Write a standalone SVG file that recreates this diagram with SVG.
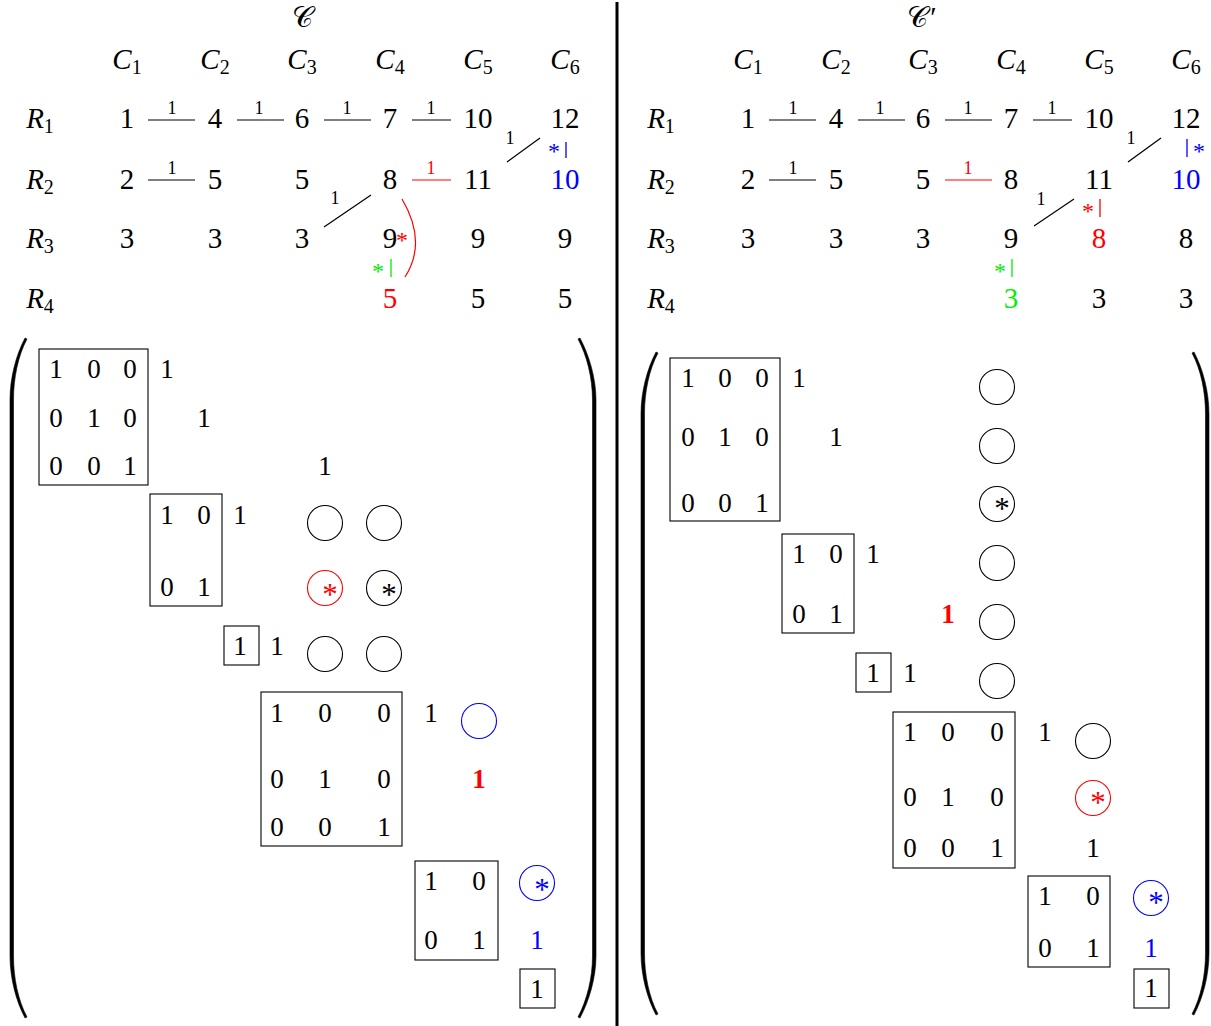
<svg xmlns="http://www.w3.org/2000/svg" width="1211" height="1026" viewBox="0 0 1211 1026">
<style>
text{font-family:"Liberation Serif","DejaVu Serif",serif;text-anchor:middle;fill:#000}
.g{font-size:29px}
.m{font-size:27px}
.s{font-size:18px}
.h{font-size:29px}
.it{font-style:italic}
.sub{font-size:20px;font-style:normal}
.st{font-size:24px}
.cst{font-size:31px}
.red{fill:#ff0000}
.blue{fill:#0000ff}
.green{fill:#00ee00}
.bold{font-weight:bold}
.e{stroke:#000;stroke-width:1.2;fill:none}
.er{stroke:#ff0000;stroke-width:1.2;fill:none}
.bar{stroke-width:1.3}
.box{fill:none;stroke:#000;stroke-width:1.1}
.c{fill:none;stroke:#000;stroke-width:1.1}
.cr{fill:none;stroke:#ff0000;stroke-width:1.1}
.cb{fill:none;stroke:#0000ff;stroke-width:1.1}
.paren{fill:#000;stroke:#000;stroke-width:0.6}
</style>

<line id="divider" x1="617" y1="2" x2="617" y2="1026" stroke="#000" stroke-width="3"/>

<!-- ============ LEFT PANEL ============ -->
<g id="left-graph">
  <text id="L-title" class="h" x="302" y="27" font-size="27">𝒞</text>
  <g id="L-headers" class="h">
    <text x="127" y="69"><tspan class="it">C</tspan><tspan class="sub" dy="5">1</tspan></text>
    <text x="215" y="69"><tspan class="it">C</tspan><tspan class="sub" dy="5">2</tspan></text>
    <text x="302" y="69"><tspan class="it">C</tspan><tspan class="sub" dy="5">3</tspan></text>
    <text x="390" y="69"><tspan class="it">C</tspan><tspan class="sub" dy="5">4</tspan></text>
    <text x="478" y="69"><tspan class="it">C</tspan><tspan class="sub" dy="5">5</tspan></text>
    <text x="565" y="69"><tspan class="it">C</tspan><tspan class="sub" dy="5">6</tspan></text>
  </g>
  <g id="L-rowlabels" class="h">
    <text x="40" y="128"><tspan class="it">R</tspan><tspan class="sub" dy="5">1</tspan></text>
    <text x="40" y="189"><tspan class="it">R</tspan><tspan class="sub" dy="5">2</tspan></text>
    <text x="40" y="248"><tspan class="it">R</tspan><tspan class="sub" dy="5">3</tspan></text>
    <text x="40" y="308"><tspan class="it">R</tspan><tspan class="sub" dy="5">4</tspan></text>
  </g>
  <g id="L-connectors">
    <line class="e" x1="148" y1="120" x2="195" y2="120"/>
    <line class="e" x1="237" y1="120" x2="284" y2="120"/>
    <line class="e" x1="324" y1="120" x2="371" y2="120"/>
    <line class="e" x1="412" y1="120" x2="451" y2="120"/>
    <line class="e" x1="148" y1="180" x2="195" y2="180"/>
    <line class="er" x1="412" y1="180" x2="451" y2="180"/>
    <line class="e" x1="324" y1="227" x2="371" y2="195"/>
    <line class="e" x1="507" y1="162" x2="540" y2="138"/>
    <path class="er" d="M402 199 Q427.5 242 405 277"/>
    <line class="bar" stroke="#0000ff" x1="566" y1="142" x2="566" y2="158"/>
    <line class="bar" stroke="#00ee00" x1="391" y1="259" x2="391" y2="277"/>
    <g class="s">
      <text x="172" y="114">1</text>
      <text x="259" y="114">1</text>
      <text x="347" y="114">1</text>
      <text x="431" y="114">1</text>
      <text x="172" y="174">1</text>
      <text class="red" x="431" y="174">1</text>
      <text x="335" y="204">1</text>
      <text x="510" y="144">1</text>
    </g>
    <text class="st blue" x="554" y="159">*</text>
    <text class="st red" x="402" y="248">*</text>
    <text class="st green" x="378" y="279">*</text>
  </g>
  <g id="L-nodes" class="g">
    <g id="L-r1"><text x="127" y="128">1</text><text x="215" y="128">4</text><text x="302" y="128">6</text><text x="390" y="128">7</text><text x="478" y="128">10</text><text x="565" y="128">12</text></g>
    <g id="L-r2"><text x="127" y="189">2</text><text x="215" y="189">5</text><text x="302" y="189">5</text><text x="390" y="189">8</text><text x="478" y="189">11</text><text class="blue" x="565" y="189">10</text></g>
    <g id="L-r3"><text x="127" y="248">3</text><text x="215" y="248">3</text><text x="302" y="248">3</text><text x="390" y="248">9</text><text x="478" y="248">9</text><text x="565" y="248">9</text></g>
    <g id="L-r4"><text class="red" x="390" y="308">5</text><text x="478" y="308">5</text><text x="565" y="308">5</text></g>
  </g>
</g>

<g id="left-matrix">
  <path class="paren" d="M25 338 C16 355 10 378 10 400 L10 956 C10 978 16 1001 25 1018 L27 1017 C18 1000 13.5 978 13.5 956 L13.5 400 C13.5 378 18 356 27 339 Z"/>
  <path class="paren" d="M580 338 C589 355 596 378 596 400 L596 956 C596 978 589 1001 580 1018 L578 1017 C587 1000 592.5 978 592.5 956 L592.5 400 C592.5 378 587 356 578 339 Z"/>
  <rect class="box" x="39" y="349" width="109" height="136"/>
  <rect class="box" x="150" y="494" width="72" height="112"/>
  <rect class="box" x="224" y="626" width="35" height="39"/>
  <rect class="box" x="261" y="692" width="141" height="154"/>
  <rect class="box" x="415" y="861" width="83" height="99"/>
  <rect class="box" x="520" y="969" width="35" height="39"/>
  <circle class="c" cx="325" cy="523" r="17.5"/>
  <circle class="c" cx="384" cy="523" r="17.5"/>
  <circle class="cr" cx="325" cy="588" r="17.5"/>
  <circle class="c" cx="384" cy="588" r="17.5"/>
  <circle class="c" cx="325" cy="654" r="17.5"/>
  <circle class="c" cx="384" cy="654" r="17.5"/>
  <circle class="cb" cx="479" cy="721" r="17.5"/>
  <circle class="cb" cx="537" cy="883" r="17.5"/>
  <g class="m">
    <text x="56" y="378">1</text><text x="94" y="378">0</text><text x="130" y="378">0</text><text x="167" y="378">1</text>
    <text x="56" y="427">0</text><text x="94" y="427">1</text><text x="130" y="427">0</text><text x="204" y="427">1</text>
    <text x="56" y="475">0</text><text x="94" y="475">0</text><text x="130" y="475">1</text><text x="325" y="475">1</text>
    <text x="167" y="524">1</text><text x="204" y="524">0</text><text x="240" y="524">1</text>
    <text x="167" y="596">0</text><text x="204" y="596">1</text>
    <text x="240" y="655">1</text><text x="277" y="655">1</text>
    <text x="277" y="722">1</text><text x="325" y="722">0</text><text x="384" y="722">0</text><text x="431" y="722">1</text>
    <text x="277" y="788">0</text><text x="325" y="788">1</text><text x="384" y="788">0</text><text class="red bold" x="479" y="788">1</text>
    <text x="277" y="836">0</text><text x="325" y="836">0</text><text x="384" y="836">1</text>
    <text x="431" y="890">1</text><text x="479" y="890">0</text>
    <text x="431" y="949">0</text><text x="479" y="949">1</text><text class="blue" x="537" y="949">1</text>
    <text x="537" y="998">1</text>
  </g>
  <text class="cst red" x="330" y="605">*</text>
  <text class="cst" x="389" y="605">*</text>
  <text class="cst blue" x="542" y="900">*</text>
</g>

<!-- ============ RIGHT PANEL ============ -->
<g id="right-graph">
  <text id="R-title" class="h" x="922" y="27" font-size="27">𝒞<tspan dx="2">′</tspan></text>
  <g id="R-headers" class="h">
    <text x="748" y="69"><tspan class="it">C</tspan><tspan class="sub" dy="5">1</tspan></text>
    <text x="836" y="69"><tspan class="it">C</tspan><tspan class="sub" dy="5">2</tspan></text>
    <text x="923" y="69"><tspan class="it">C</tspan><tspan class="sub" dy="5">3</tspan></text>
    <text x="1011" y="69"><tspan class="it">C</tspan><tspan class="sub" dy="5">4</tspan></text>
    <text x="1099" y="69"><tspan class="it">C</tspan><tspan class="sub" dy="5">5</tspan></text>
    <text x="1186" y="69"><tspan class="it">C</tspan><tspan class="sub" dy="5">6</tspan></text>
  </g>
  <g id="R-rowlabels" class="h">
    <text x="661" y="128"><tspan class="it">R</tspan><tspan class="sub" dy="5">1</tspan></text>
    <text x="661" y="189"><tspan class="it">R</tspan><tspan class="sub" dy="5">2</tspan></text>
    <text x="661" y="248"><tspan class="it">R</tspan><tspan class="sub" dy="5">3</tspan></text>
    <text x="661" y="308"><tspan class="it">R</tspan><tspan class="sub" dy="5">4</tspan></text>
  </g>
  <g id="R-connectors">
    <line class="e" x1="769" y1="120" x2="816" y2="120"/>
    <line class="e" x1="858" y1="120" x2="905" y2="120"/>
    <line class="e" x1="945" y1="120" x2="992" y2="120"/>
    <line class="e" x1="1033" y1="120" x2="1072" y2="120"/>
    <line class="e" x1="769" y1="180" x2="816" y2="180"/>
    <line class="er" x1="945" y1="180" x2="992" y2="180"/>
    <line class="e" x1="1128" y1="162" x2="1161" y2="138"/>
    <line class="e" x1="1034" y1="226" x2="1074" y2="199"/>
    <line class="bar" stroke="#0000ff" x1="1187" y1="139" x2="1187" y2="157"/>
    <line class="bar" stroke="#ff0000" x1="1100" y1="199" x2="1100" y2="217"/>
    <line class="bar" stroke="#00ee00" x1="1012" y1="259" x2="1012" y2="277"/>
    <g class="s">
      <text x="793" y="114">1</text>
      <text x="880" y="114">1</text>
      <text x="968" y="114">1</text>
      <text x="1052" y="114">1</text>
      <text x="793" y="174">1</text>
      <text class="red" x="968" y="174">1</text>
      <text x="1131" y="144">1</text>
      <text x="1041" y="205">1</text>
    </g>
    <text class="st blue" x="1199" y="159">*</text>
    <text class="st red" x="1088" y="219">*</text>
    <text class="st green" x="1000" y="279">*</text>
  </g>
  <g id="R-nodes" class="g">
    <g id="R-r1"><text x="748" y="128">1</text><text x="836" y="128">4</text><text x="923" y="128">6</text><text x="1011" y="128">7</text><text x="1099" y="128">10</text><text x="1186" y="128">12</text></g>
    <g id="R-r2"><text x="748" y="189">2</text><text x="836" y="189">5</text><text x="923" y="189">5</text><text x="1011" y="189">8</text><text x="1099" y="189">11</text><text class="blue" x="1186" y="189">10</text></g>
    <g id="R-r3"><text x="748" y="248">3</text><text x="836" y="248">3</text><text x="923" y="248">3</text><text x="1011" y="248">9</text><text class="red" x="1099" y="248">8</text><text x="1186" y="248">8</text></g>
    <g id="R-r4"><text class="green" x="1011" y="308">3</text><text x="1099" y="308">3</text><text x="1186" y="308">3</text></g>
  </g>
</g>

<g id="right-matrix">
  <path class="paren" d="M656 352 C647 369 641 392 641 414 L641 953 C641 975 647 998 656 1015 L658 1014 C649 997 644.5 975 644.5 953 L644.5 414 C644.5 392 649 370 658 353 Z"/>
  <path class="paren" d="M1194 352 C1203 369 1209 392 1209 414 L1209 953 C1209 975 1203 998 1194 1015 L1192 1014 C1201 997 1205.5 975 1205.5 953 L1205.5 414 C1205.5 392 1201 370 1192 353 Z"/>
  <rect class="box" x="670" y="358" width="110" height="163"/>
  <rect class="box" x="782" y="534" width="72" height="99"/>
  <rect class="box" x="856" y="653" width="35" height="39"/>
  <rect class="box" x="893" y="712" width="122" height="156"/>
  <rect class="box" x="1028" y="876" width="82" height="91"/>
  <rect class="box" x="1134" y="969" width="35" height="39"/>
  <circle class="c" cx="997" cy="387" r="17.5"/>
  <circle class="c" cx="997" cy="446" r="17.5"/>
  <circle class="c" cx="997" cy="504" r="17.5"/>
  <circle class="c" cx="997" cy="563" r="17.5"/>
  <circle class="c" cx="997" cy="622" r="17.5"/>
  <circle class="c" cx="997" cy="681" r="17.5"/>
  <circle class="c" cx="1093" cy="741" r="17.5"/>
  <circle class="cr" cx="1093" cy="798" r="17.5"/>
  <circle class="cb" cx="1151" cy="898" r="17.5"/>
  <g class="m">
    <text x="688" y="387">1</text><text x="725" y="387">0</text><text x="762" y="387">0</text><text x="799" y="387">1</text>
    <text x="688" y="446">0</text><text x="725" y="446">1</text><text x="762" y="446">0</text><text x="836" y="446">1</text>
    <text x="688" y="512">0</text><text x="725" y="512">0</text><text x="762" y="512">1</text>
    <text x="799" y="563">1</text><text x="836" y="563">0</text><text x="873" y="563">1</text>
    <text x="799" y="623">0</text><text x="836" y="623">1</text><text class="red bold" x="948" y="623">1</text>
    <text x="873" y="682">1</text><text x="910" y="682">1</text>
    <text x="910" y="741">1</text><text x="948" y="741">0</text><text x="997" y="741">0</text><text x="1045" y="741">1</text>
    <text x="910" y="806">0</text><text x="948" y="806">1</text><text x="997" y="806">0</text>
    <text x="910" y="857">0</text><text x="948" y="857">0</text><text x="997" y="857">1</text><text x="1093" y="857">1</text>
    <text x="1045" y="905">1</text><text x="1093" y="905">0</text>
    <text x="1045" y="957">0</text><text x="1093" y="957">1</text><text class="blue" x="1151" y="957">1</text>
    <text x="1151" y="997">1</text>
  </g>
  <text class="cst" x="1002" y="519">*</text>
  <text class="cst red" x="1098" y="813">*</text>
  <text class="cst blue" x="1156" y="913">*</text>
</g>
</svg>
